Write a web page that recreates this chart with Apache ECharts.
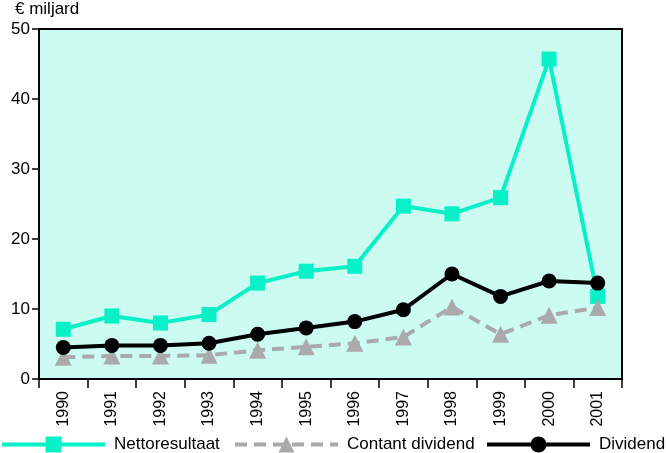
<!DOCTYPE html>
<html>
<head>
<meta charset="utf-8">
<script src="https://cdn.jsdelivr.net/npm/echarts@6/dist/echarts.min.js"></script>
<style>
  html, body { margin: 0; padding: 0; background: #fff; }
  #chart { width: 666px; height: 453px; }
</style>
</head>
<body>
<div id="chart"></div>
<script>
// data
var jaren = ["1990", "1991", "1992", "1993", "1994", "1995", "1996", "1997", "1998", "1999", "2000", "2001"];
var nettoresultaat = [7.1, 9.0, 8.0, 9.2, 13.7, 15.4, 16.1, 24.7, 23.6, 25.9, 45.7, 11.8];
var contantDividend = [3.1, 3.3, 3.3, 3.4, 4.1, 4.6, 5.1, 6.0, 10.3, 6.4, 9.1, 10.2];
var dividend = [4.5, 4.8, 4.8, 5.1, 6.4, 7.3, 8.2, 9.9, 15.0, 11.8, 14.0, 13.7];
var yTicks = [0, 10, 20, 30, 40, 50];
var reeksNamen = ['Nettoresultaat', 'Contant dividend', 'Dividend'];

var myChart = echarts.init(document.getElementById('chart'));
var lettertype = 'Liberation Sans, Arial, sans-serif';

// one legend per series so each sits where it does in the original
var legendLinks = [0, 233, 485];
var legends = reeksNamen.map(function (naam, i) {
  return {
    left: legendLinks[i],
    bottom: 0,
    padding: 0,
    itemWidth: 103,
    itemHeight: 20,
    lineStyle: { width: 4 },
    textStyle: { fontSize: 17, color: '#000', fontFamily: lettertype, padding: [0, 0, 0, 4] },
    data: [naam]
  };
});

var option = {
  animation: false,
  textStyle: { fontFamily: lettertype },
  graphic: [{
    type: 'text',
    left: 15,
    top: 1,
    style: { text: '€ miljard', fontSize: 17, fill: '#000', fontFamily: lettertype }
  }],
  legend: legends,
  grid: {
    left: 39,
    right: 44,
    top: 29,
    bottom: 74,
    show: true,
    backgroundColor: '#ccfbf2',
    borderColor: '#000',
    borderWidth: 2
  },
  xAxis: {
    type: 'category',
    data: jaren,
    boundaryGap: true,
    axisLine: { lineStyle: { color: '#000', width: 2 } },
    axisTick: { show: true, length: 9, lineStyle: { color: '#000', width: 1.5 } },
    axisLabel: { rotate: 90, fontSize: 16, color: '#000', margin: 12, fontFamily: lettertype },
    splitLine: { show: false }
  },
  yAxis: {
    type: 'value',
    min: yTicks[0],
    max: yTicks[yTicks.length - 1],
    interval: 10,
    axisLine: { show: true, lineStyle: { color: '#000', width: 2 } },
    axisTick: { show: true, length: 7, lineStyle: { color: '#000', width: 1.5 } },
    axisLabel: { fontSize: 17, color: '#000', margin: 9, fontFamily: lettertype },
    splitLine: { show: false }
  },
  series: [
    {
      name: reeksNamen[0],
      type: 'line',
      data: nettoresultaat,
      symbol: 'rect',
      symbolSize: 15,
      z: 2,
      itemStyle: { color: '#08f0c8' },
      lineStyle: { color: '#08f0c8', width: 4 }
    },
    {
      name: reeksNamen[1],
      type: 'line',
      data: contantDividend,
      symbol: 'triangle',
      symbolSize: 17,
      z: 3,
      itemStyle: { color: '#aaaaaa' },
      lineStyle: { color: '#aaaaaa', width: 4, type: [12, 7] }
    },
    {
      name: reeksNamen[2],
      type: 'line',
      data: dividend,
      symbol: 'circle',
      symbolSize: 15,
      z: 4,
      itemStyle: { color: '#000' },
      lineStyle: { color: '#000', width: 4 }
    }
  ]
};

myChart.setOption(option);
</script>
</body>
</html>
